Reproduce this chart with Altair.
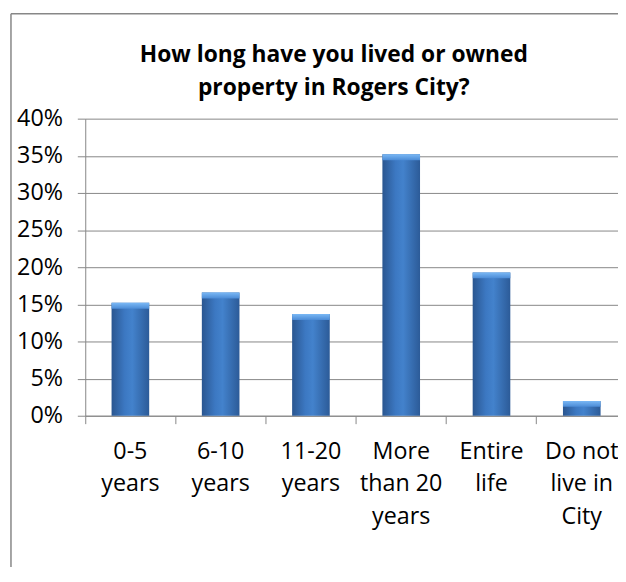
import altair as alt
import pandas as pd

categories = ["0-5\nyears", "6-10\nyears", "11-20\nyears", "More\nthan 20\nyears", "Entire\nlife", "Do not\nlive in\nCity"]
shares = [0.152, 0.166, 0.137, 0.352, 0.193, 0.020]
y_ticks = [0, 0.05, 0.10, 0.15, 0.20, 0.25, 0.30, 0.35, 0.40]
title_lines = ["How long have you lived or owned", "property in Rogers City?"]

df = pd.DataFrame({"cat": categories, "share": shares})

FONT = "Open Sans"
GRAY = "#878787"
W, H = 538, 300

x_axis = alt.Axis(title=None, labelAngle=0, bandPosition=0,
                  labelExpr="split(datum.label, '\\n')",
                  labelFont=FONT, labelFontSize=23.5, labelColor="#000000",
                  labelLineHeight=33, labelPadding=16, labelBaseline="top",
                  labelOverlap=False,
                  domainColor=GRAY, tickColor=GRAY, tickSize=8, grid=False)
y_axis = alt.Axis(title=None, values=y_ticks, tickCount=9, format=".0%",
                  labelFont=FONT, labelFontSize=23.5, labelColor="#000000",
                  labelOverlap=False, labelBound=False, labelFlush=False,
                  labelPadding=15, domainColor=GRAY, tickColor=GRAY, tickSize=8,
                  gridColor=GRAY, gridWidth=1, gridOpacity=1)
x_scale = alt.Scale(range=[0, 547], paddingInner=0, paddingOuter=0)
y_scale = alt.Scale(domain=[0, 0.4], nice=False)

bars = alt.Chart(df).mark_bar(
    size=38,
    color=alt.Gradient(gradient="linear", x1=0, x2=1, y1=0, y2=0,
                       stops=[alt.GradientStop(color="#2a5690", offset=0),
                              alt.GradientStop(color="#3c78c2", offset=0.35),
                              alt.GradientStop(color="#4382cc", offset=0.55),
                              alt.GradientStop(color="#2c5b98", offset=1)])
).encode(
    x=alt.X("cat:N", sort=categories, scale=x_scale, axis=x_axis),
    y=alt.Y("share:Q", scale=y_scale, axis=y_axis),
)

bevel = alt.Chart(df).transform_calculate(
    low="datum.share - 0.008"
).mark_bar(
    size=38,
    color=alt.Gradient(gradient="linear", x1=0, x2=0, y1=0, y2=1,
                       stops=[alt.GradientStop(color="#7ab8f5", offset=0),
                              alt.GradientStop(color="#4b8bd6", offset=1)])
).encode(
    x=alt.X("cat:N", sort=categories, scale=x_scale, axis=x_axis),
    y=alt.Y("share:Q", scale=y_scale, axis=y_axis),
    y2="low:Q",
)

frame_df = pd.DataFrame({"k": [0]})
left_border = alt.Chart(frame_df).mark_rule(color=GRAY, strokeWidth=1.5).encode(
    x=alt.value(-75), y=alt.value(-106), y2=alt.value(460))
top_border = alt.Chart(frame_df).mark_rule(color=GRAY, strokeWidth=1.5).encode(
    y=alt.value(-106), x=alt.value(-75), x2=alt.value(W))

title1 = alt.Chart(frame_df).mark_text(
    font=FONT, fontSize=23, fontWeight="bold", color="#000000",
    align="center", baseline="middle"
).encode(x=alt.value(251), y=alt.value(-64), text=alt.value(title_lines[0]))
title2 = alt.Chart(frame_df).mark_text(
    font=FONT, fontSize=23, fontWeight="bold", color="#000000",
    align="center", baseline="middle"
).encode(x=alt.value(251), y=alt.value(-30.5), text=alt.value(title_lines[1]))

chart = alt.layer(bars, bevel, left_border, top_border, title1, title2).properties(
    width=W, height=H,
    autosize=alt.AutoSizeParams(type="none"),
    padding={"left": 78, "top": 109, "right": 0, "bottom": 150},
).configure_view(stroke=None)

chart.save("out.html", embed_options={"renderer": "svg", "actions": False})
